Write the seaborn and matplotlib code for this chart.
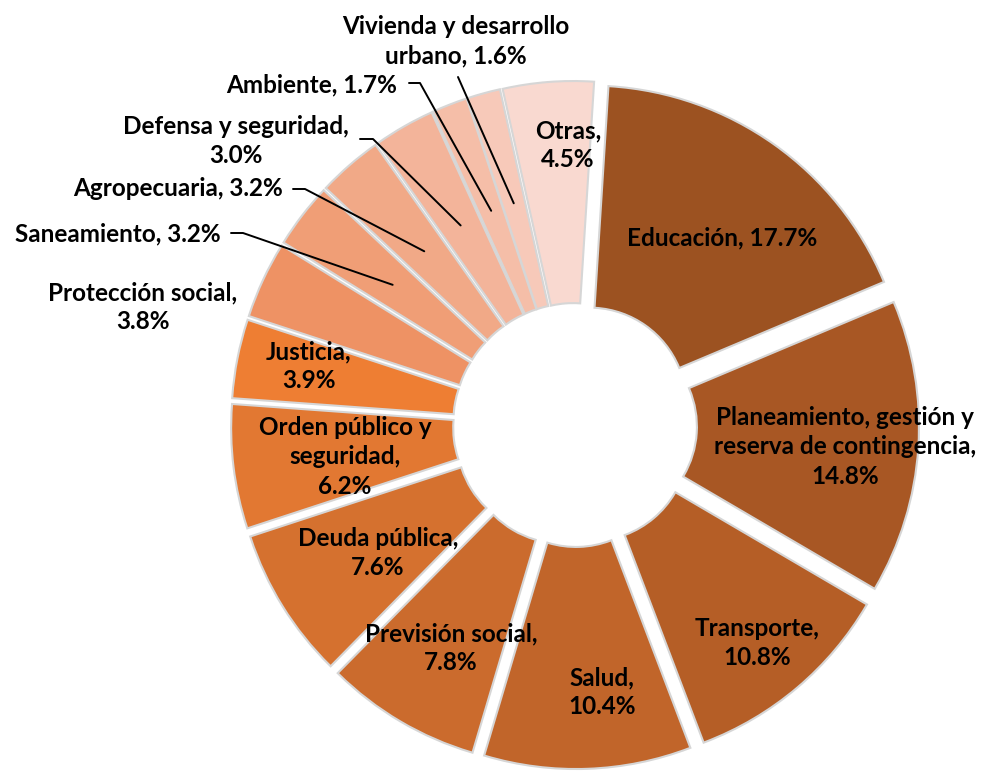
import numpy as np
import matplotlib
matplotlib.use("Agg")
import matplotlib.pyplot as plt
import matplotlib.patheffects as pe
import seaborn as sns

sns.set_theme(style="white")
plt.rcParams['font.family'] = ['Lato', 'DejaVu Sans']

# Data (clockwise from the top)
categories = ["Educación",
              "Planeamiento, gestión y\nreserva de contingencia",
              "Transporte", "Salud", "Previsión social", "Deuda pública",
              "Orden público y\nseguridad", "Justicia", "Protección social",
              "Saneamiento", "Agropecuaria", "Defensa y seguridad",
              "Ambiente", "Vivienda y desarrollo\nurbano", "Otras"]
shares = [17.7, 14.8, 10.8, 10.4, 7.8, 7.6, 6.2, 3.9, 3.8, 3.2, 3.2, 3.0, 1.7, 1.6, 4.5]
colors = ["#9C5221", "#A85724", "#B55E26", "#C1652A", "#CB6B2D", "#D5712F",
          "#E27832", "#EE7E33", "#EE9264", "#F09E76", "#F1A987", "#F3B49A",
          "#F5BEA8", "#F7C9B9", "#F9D9D0"]
# separator between name and value in each label
label_sep = [", ", ",\n", ",\n", ",\n", ",\n", ",\n", ",\n", ",\n", ",\n",
             ", ", ", ", ",\n", ", ", ", ", ",\n"]

# Layout (pixel coords, y from top)
W, H = 992, 775
label_pos = [(722, 238), (845, 447), (757, 643), (602, 692), (451, 648),
             (378, 553), (345, 457), (309, 366), (143, 307), (118, 234),
             (178, 189), (236, 141), (312, 85), (456, 41), (568, 145)]
# leader line start points for the outside labels (index -> points)
leaders = {9: [(231, 233), (243, 233)],
           10: [(293, 189), (305, 189)],
           11: [(360, 139), (373, 139)],
           12: [(409, 83), (420, 83)],
           13: [(458, 77)]}

fig = plt.figure(figsize=(W / 100, H / 100), dpi=100)
ax = fig.add_axes([0, 0, 1, 1])

R_OUT, RING, EXPLODE = 318, 220, 25
center = (575, H - 425)

wedges, _ = ax.pie(shares, colors=colors, startangle=86.4, counterclock=False,
                   radius=R_OUT, center=center, explode=[EXPLODE] * len(shares),
                   wedgeprops=dict(width=RING, linewidth=0))
for w in wedges:
    w.set_path_effects([pe.Stroke(linewidth=3, foreground="#d6d6d6"), pe.Normal()])

for i, (name, val) in enumerate(zip(categories, shares)):
    x, y = label_pos[i]
    ax.text(x, H - y, f"{name}{label_sep[i]}{val:.1f}%", ha="center", va="center",
            fontsize=17.5, fontweight="bold", color="black", linespacing=1.32)

# leader lines end in the middle of the ring of each small slice
for i, pts in leaders.items():
    w = wedges[i]
    th = np.deg2rad((w.theta1 + w.theta2) / 2)
    rho = R_OUT - RING / 2 - 3
    xe = w.center[0] + rho * np.cos(th)
    ye = w.center[1] + rho * np.sin(th)
    xs = [p[0] for p in pts] + [xe]
    ys = [H - p[1] for p in pts] + [ye]
    ax.plot(xs, ys, color="black", lw=1.4)

ax.set_xlim(0, W)
ax.set_ylim(0, H)
ax.set_aspect("equal")
ax.axis("off")

fig.savefig("out.png", dpi=100)
